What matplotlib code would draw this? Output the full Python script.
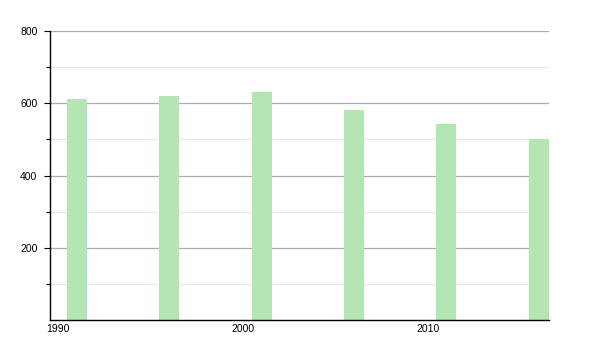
import matplotlib.pyplot as plt

# census years and population
years = [1991, 1996, 2001, 2006, 2011, 2016]
population = [612, 621, 631, 581, 542, 500]

y_major = [200, 400, 600, 800]
y_minor = [100, 300, 500, 700]
x_ticks = [1990, 2000, 2010]

plt.rcParams['font.family'] = ['Liberation Sans', 'DejaVu Sans']

fig = plt.figure(figsize=(6, 3.5), dpi=100)
ax = fig.add_axes([50 / 600, 1 - 320 / 350, 499 / 600, 289 / 350])

# gridlines behind bars
for v in y_minor:
    ax.axhline(v, color='#e8e8e8', lw=0.9, zorder=1)
for v in y_major:
    ax.axhline(v, color='#aaaaaa', lw=0.9, zorder=1)

ax.bar(years, population, width=1.08, color='#b3e6b3', zorder=2)

ax.set_xlim(1989.55, 2016.55)
ax.set_ylim(0, 800)

ax.set_yticks(y_major)
ax.set_yticks(y_minor, minor=True)
ax.set_xticks(x_ticks)
ax.tick_params(axis='y', which='major', length=4.5, width=0.8, labelsize=7.5, pad=4.5)
ax.tick_params(axis='y', which='minor', length=3, width=0.8)
ax.tick_params(axis='x', length=0, labelsize=7.5, pad=3)

for s in ['top', 'right']:
    ax.spines[s].set_visible(False)
ax.spines['left'].set_linewidth(1)
ax.spines['bottom'].set_linewidth(1)

fig.savefig('out.png', dpi=100)
